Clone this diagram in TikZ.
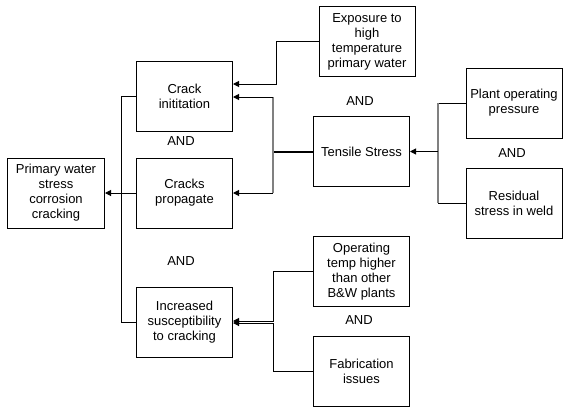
\documentclass[tikz,border=0pt]{standalone}
\usepackage{fontspec}
\setmainfont{Liberation Sans}
\usetikzlibrary{arrows.meta}
\begin{document}
\begin{tikzpicture}[x=1pt,y=-1pt,
  box/.style={draw,line width=1pt,minimum width=96pt,minimum height=70pt,inner sep=0pt,align=center,font=\fontsize{13}{15}\selectfont},
  andlbl/.style={font=\fontsize{13}{15}\selectfont,inner sep=0pt},
  conn/.style={line width=1pt},
  arr/.style={line width=1pt,-{Triangle[length=6pt,width=6pt]}},
  grayline/.style={line width=2pt,draw={rgb,255:red,128;green,128;blue,128}},
  thickline/.style={line width=2pt}]
\useasboundingbox (0,0) rectangle (576,416);
\node[box,minimum width=97pt] (prim) at (56,193) {Primary water\\stress\\corrosion\\cracking};
\node[box] (init) at (184.5,96) {Crack\\inititation};
\node[box] (prop) at (184.5,193) {Cracks\\propagate};
\node[box] (incr) at (184.5,322.5) {Increased\\susceptibility\\to cracking};
\node[box] (expo) at (367,41.5) {Exposure to\\high\\temperature\\primary water};
\node[box] (tens) at (361.5,151.5) {Tensile Stress};
\node[box] (plant) at (514,103) {Plant operating\\pressure};
\node[box] (resid) at (514,203) {Residual\\stress in weld};
\node[box] (optemp) at (361.5,271.5) {Operating\\temp higher\\than other\\B\&W plants};
\node[box] (fab) at (361.5,371) {Fabrication\\issues};
\node[andlbl] (and1) at (181,141) {AND};
\node[andlbl] (and2) at (360,101) {AND};
\node[andlbl] (and3) at (512,153) {AND};
\node[andlbl] (and4) at (181,261) {AND};
\node[andlbl] (and5) at (359,320) {AND};
% left bus
\coordinate (lb1) at (121,96);
\coordinate (lb2) at (121,322.5);
\draw[conn] (init.west) -- (lb1) -- (lb2) -- (incr.west);
\draw[arr] (prop.west) -- (prim.east);
% exposure
\coordinate (ex1) at (276.5,41.5);
\draw[arr] (expo.west) -- (ex1) |- ([yshift=12pt]init.east);
% tensile
\coordinate (tb) at (273,151.5);
\coordinate (tb1) at (273,97);
\coordinate (tb2) at (273,193);
\draw[thickline] (tens.west) -- (tb);
\draw[grayline] (tb1) -- (tb2);
\draw[arr] (tb1) -- ([yshift=-1pt]init.east);
\draw[arr] (tb2) -- (prop.east);
% plant / residual
\coordinate (pb1) at (438,103);
\coordinate (pb2) at (438,203);
\coordinate (pb) at (438,151.5);
\draw[conn] (plant.west) -- (pb1);
\draw[conn] (resid.west) -- (pb2);
\draw[grayline] (pb1) -- (pb2);
\draw[arr] (pb) -- (tens.east);
% operating temp / fabrication
\coordinate (ob1) at (273,271.5);
\coordinate (ob2) at (273,371);
\draw[arr] (optemp.west) -- (ob1) |- ([yshift=1.5pt]incr.east);
\draw[arr] (fab.west) -- (ob2) |- ([yshift=-0.5pt]incr.east);
\end{tikzpicture}
\end{document}
